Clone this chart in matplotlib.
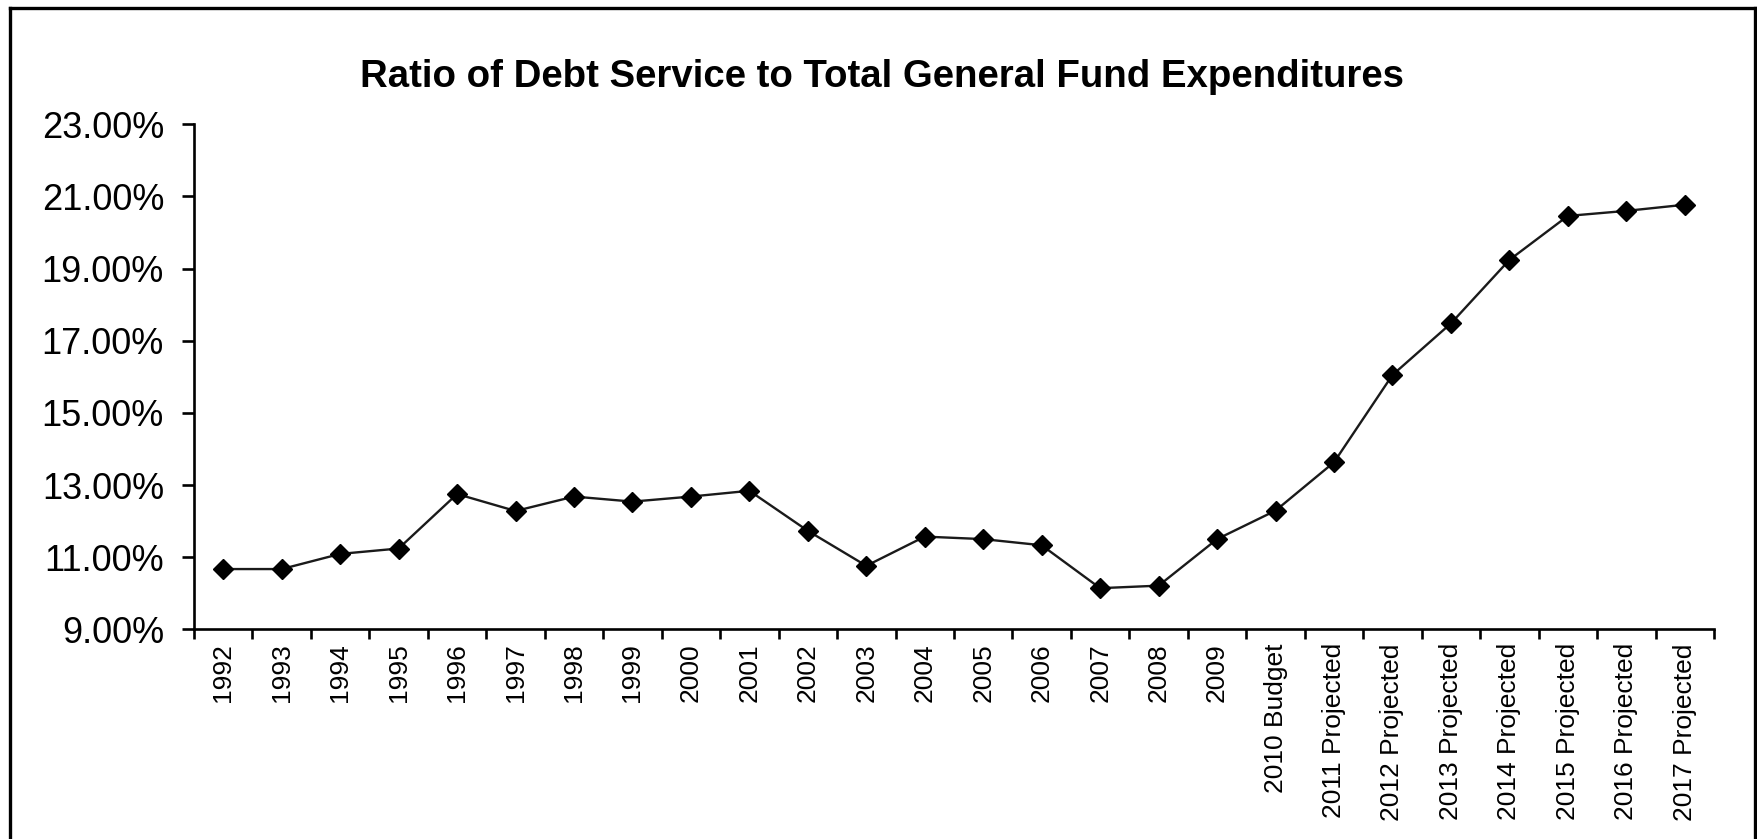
import matplotlib
matplotlib.use("Agg")
import matplotlib.pyplot as plt
import numpy as np
from matplotlib.lines import Line2D

# Fiscal years and debt-service ratio (% of total general fund expenditures)
years = ["1992", "1993", "1994", "1995", "1996", "1997", "1998", "1999", "2000",
         "2001", "2002", "2003", "2004", "2005", "2006", "2007", "2008", "2009",
         "2010 Budget", "2011 Projected", "2012 Projected", "2013 Projected",
         "2014 Projected", "2015 Projected", "2016 Projected", "2017 Projected"]
ratio = [10.67, 10.67, 11.09, 11.24, 12.75, 12.28, 12.68, 12.54, 12.68,
         12.84, 11.73, 10.76, 11.57, 11.50, 11.33, 10.14, 10.21, 11.50,
         12.29, 13.63, 16.05, 17.48, 19.24, 20.46, 20.60, 20.77]
y_ticks = [9, 11, 13, 15, 17, 19, 21, 23]
y_tick_labels = ["9.00%", "11.00%", "13.00%", "15.00%", "17.00%", "19.00%",
                 "21.00%", "23.00%"]
title = "Ratio of Debt Service to Total General Fund Expenditures"

W, H = 1757, 839
plt.rcParams["font.family"] = ["Liberation Sans", "DejaVu Sans"]

fig = plt.figure(figsize=(W / 100, H / 100), dpi=100)
fig.patch.set_facecolor("white")

# chart frame (left, top, right edges)
frame_kw = dict(color="black", linewidth=2.4, transform=fig.transFigure,
                clip_on=False)
xl, xr, yt = 10 / W, 1755 / W, 1 - 8 / H
fig.add_artist(Line2D([xl, xl], [0, yt], **frame_kw))
fig.add_artist(Line2D([xl, xr], [yt, yt], **frame_kw))
fig.add_artist(Line2D([xr, xr], [yt, 0], **frame_kw))

ax = fig.add_axes([194 / W, 1 - 629.3 / H, (1714 - 194) / W, (629.3 - 124.3) / H])

x = np.arange(len(years))
ax.plot(x, ratio, color="#1a1a1a", linewidth=1.7, marker="D",
        markersize=10.5, markerfacecolor="black", markeredgecolor="black",
        zorder=3)

ax.set_xlim(-0.5, len(years) - 0.5)
ax.set_ylim(9, 23)

for side in ("top", "right"):
    ax.spines[side].set_visible(False)
for side in ("left", "bottom"):
    ax.spines[side].set_linewidth(1.9)
    ax.spines[side].set_color("black")

ax.set_yticks(y_ticks)
ax.set_yticklabels(y_tick_labels)
ax.tick_params(axis="y", direction="out", length=8.6, width=1.9, pad=13,
               labelsize=26, colors="black")

# tick marks at category boundaries, labels at category centres
ax.set_xticks(np.arange(len(years) + 1) - 0.5)
ax.set_xticklabels([])
ax.tick_params(axis="x", which="major", direction="out", length=7.2, width=1.9)
ax.set_xticks(x, minor=True)
ax.set_xticklabels(years, minor=True, rotation=90, fontsize=19, va="top",
                   ha="center")
ax.tick_params(axis="x", which="minor", length=0, pad=10)

fig.text(882 / W, 1 - 87 / H, title, ha="center", va="baseline",
         fontsize=27.6, fontweight="bold")

fig.savefig("out.png", dpi=100, facecolor="white")
